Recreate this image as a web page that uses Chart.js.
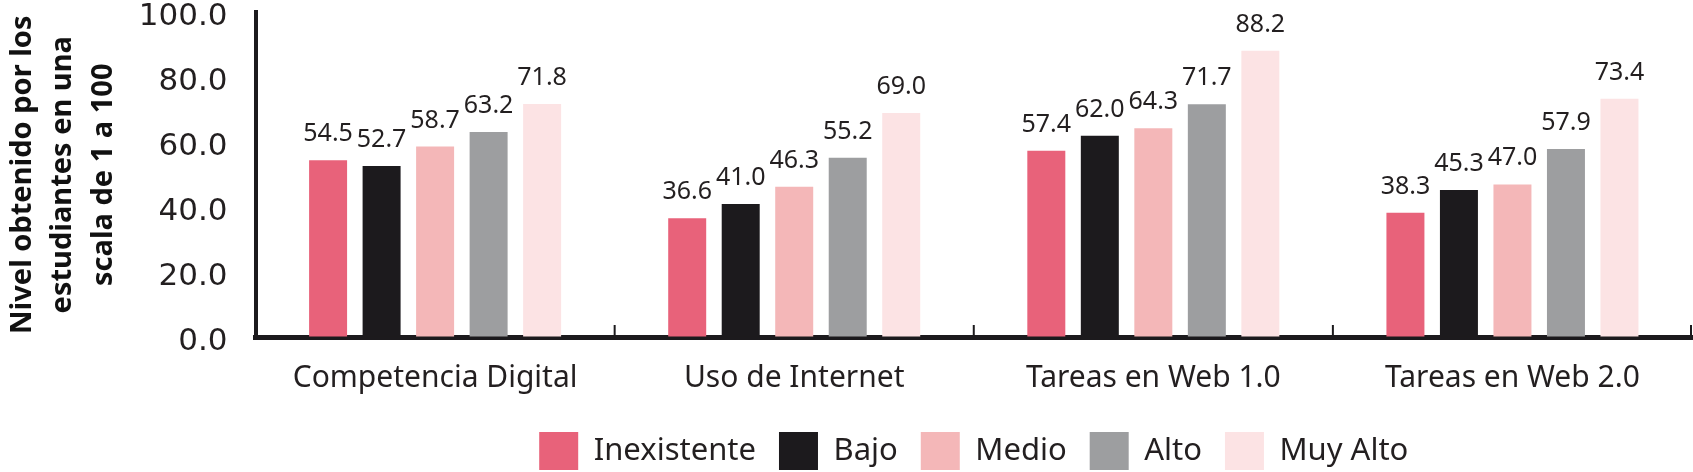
<!DOCTYPE html>
<html lang="es">
<head>
<meta charset="utf-8">
<title>Nivel obtenido por los estudiantes</title>
<script src="https://cdn.jsdelivr.net/npm/chart.js@4.4.1/dist/chart.umd.min.js"></script>
<style>
  html, body { margin: 0; padding: 0; background: #fff; }
  #wrap { width: 1693px; height: 472px; position: relative; }
</style>
</head>
<body>
<div id="wrap"><canvas id="chart"></canvas></div>
<script>
const categories = ['Competencia Digital', 'Uso de Internet', 'Tareas en Web 1.0', 'Tareas en Web 2.0'];
const levels = ['Inexistente', 'Bajo', 'Medio', 'Alto', 'Muy Alto'];
const inexistente = [54.5, 36.6, 57.4, 38.3];
const bajo = [52.7, 41.0, 62.0, 45.3];
const medio = [58.7, 46.3, 64.3, 47.0];
const alto = [63.2, 55.2, 71.7, 57.9];
const muyAlto = [71.8, 69.0, 88.2, 73.4];
const yTicks = [0, 20, 40, 60, 80, 100];
const yTitle = ['Nivel obtenido por los', 'estudiantes en una', 'scala de 1 a 100'];
const colors = ['#e8627a', '#1c1a1d', '#f4b7b8', '#9d9ea0', '#fce3e4'];

const ink = '#231f20';

// numbers above each bar
const valueLabels = {
  id: 'valueLabels',
  afterDatasetsDraw(chart) {
    const ctx = chart.ctx;
    ctx.save();
    ctx.font = '25px "Noto Sans"';
    ctx.fillStyle = ink;
    ctx.textAlign = 'center';
    ctx.textBaseline = 'alphabetic';
    chart.data.datasets.forEach((ds, i) => {
      chart.getDatasetMeta(i).data.forEach((bar, j) => {
        ctx.fillText(ds.data[j].toFixed(1), bar.x, bar.y - 19);
      });
    });
    ctx.restore();
  }
};

// short upward ticks between categories
const categoryTicks = {
  id: 'categoryTicks',
  afterDraw(chart) {
    const x = chart.scales.x;
    const area = chart.chartArea;
    const ctx = chart.ctx;
    ctx.save();
    ctx.strokeStyle = '#1c1a1d';
    ctx.lineWidth = 2;
    ctx.beginPath();
    for (let i = 1; i <= categories.length; i++) {
      const px = i < categories.length
        ? (x.getPixelForValue(i - 1) + x.getPixelForValue(i)) / 2
        : area.right - 1;
      ctx.moveTo(px, area.bottom);
      ctx.lineTo(px, area.bottom - 12);
    }
    ctx.stroke();
    ctx.restore();
  }
};

const series = [inexistente, bajo, medio, alto, muyAlto];

// invisible tick marks, used only as spacing between axis and labels
const hiddenTicks = len => ({
  display: true,
  drawOnChartArea: false,
  drawTicks: true,
  tickLength: len,
  color: 'rgba(0,0,0,0)'
});

new Chart(document.getElementById('chart'), {
  type: 'bar',
  data: {
    labels: categories,
    datasets: levels.map((name, i) => ({
      label: name,
      data: series[i],
      backgroundColor: colors[i],
      borderWidth: 0,
      categoryPercentage: 0.745,
      barPercentage: 0.71
    }))
  },
  options: {
    responsive: true,
    maintainAspectRatio: false,
    animation: false,
    layout: { padding: { top: 12, right: 1, left: 0, bottom: 0 } },
    scales: {
      x: {
        z: 1,
        grid: hiddenTicks(11),
        border: { display: true, color: '#1c1a1d', width: 5 },
        ticks: {
          padding: 0,
          color: ink,
          font: { family: 'Noto Sans', size: 30, lineHeight: 2.03 }
        }
      },
      y: {
        z: 1,
        min: 0,
        max: 100,
        afterBuildTicks: s => { s.ticks = yTicks.map(v => ({ value: v })); },
        grid: hiddenTicks(28),
        border: { display: true, color: '#1c1a1d', width: 4 },
        ticks: {
          padding: 0,
          labelOffset: 5,
          color: ink,
          font: { family: 'DejaVu Sans', size: 31, lineHeight: 0.8 },
          callback: v => Number(v).toFixed(1)
        },
        title: {
          display: true,
          text: yTitle,
          color: '#111',
          font: { family: 'Noto Sans', size: 29, weight: 'bold', lineHeight: 1.4 },
          padding: { top: 2, bottom: 15 }
        }
      }
    },
    plugins: {
      tooltip: { enabled: false },
      legend: {
        position: 'bottom',
        fullSize: false,
        maxHeight: 63,
        labels: {
          boxWidth: 39,
          boxHeight: 38,
          padding: 23,
          color: ink,
          font: { family: 'Noto Sans', size: 31 }
        }
      }
    }
  },
  plugins: [valueLabels, categoryTicks]
});
</script>
</body>
</html>
